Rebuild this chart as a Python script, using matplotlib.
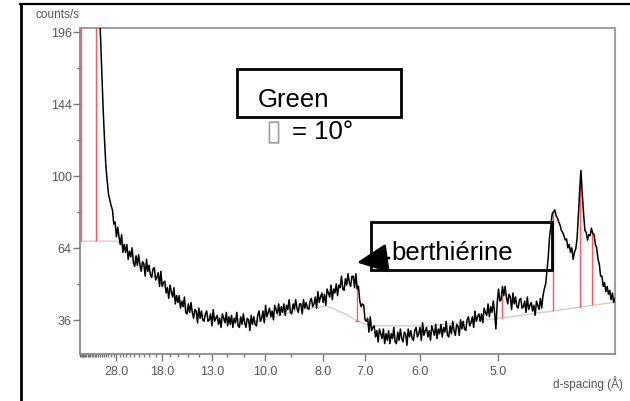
import numpy as np
import matplotlib
matplotlib.use("Agg")
import matplotlib.pyplot as plt
from matplotlib.lines import Line2D
from matplotlib.patches import Rectangle, FancyArrowPatch

# ---------------- data ----------------
WAVELENGTH = 1.5406                 # Cu K-alpha, Angstrom
scan_start, scan_step = 1.8, 0.05   # degrees 2-theta
counts = [
    950, 900, 850, 790, 730, 670, 610, 550, 490, 430, 380, 330, 290, 250,
    218, 188, 162, 138, 120, 105, 97, 90, 87, 84,
    82, 75, 76, 69, 73.5, 69, 65.5, 70, 62, 65.5,
    62, 65.5, 59, 62.5, 60, 64, 57.5, 56, 60.5, 56.5,
    61, 56.5, 54, 58, 57, 52, 59, 54, 56.5, 52.5,
    51.5, 55, 55.5, 50.5, 51.5, 53.5, 48, 54, 48, 49.5,
    50, 45.5, 47.5, 43.5, 48.5, 46, 44, 47.5, 41.5, 44.5,
    42, 44.5, 40, 42.5, 40.5, 44, 38.5, 38, 41.5, 38.5,
    42, 38.5, 36.5, 39.5, 39, 35, 40, 36.5, 39, 36,
    35.5, 38, 39, 35.5, 36, 38, 34, 39.5, 35.5, 36.5,
    37.5, 34.5, 36.5, 33.5, 38, 36.5, 35, 38.5, 34, 37,
    34.5, 37.5, 33.5, 36.5, 35, 38.5, 34, 33.5, 37, 34.5,
    38, 35, 33.5, 36.5, 36, 32.5, 37.5, 34.5, 37, 34.5,
    34, 37.5, 39, 35.5, 36.5, 39, 35, 41, 37, 38.5,
    40, 37, 39, 36, 41, 39.5, 38, 41.5, 37.5, 40.5,
    38.5, 41.5, 37.5, 41, 39.5, 43, 38.5, 38, 41.5, 39.5,
    43, 40, 38.5, 41.5, 41.5, 38, 43, 40, 42, 40,
    39.5, 42.5, 43.5, 40.5, 41.5, 44, 40, 46, 42, 44,
    45.5, 42, 45, 41, 47, 45.5, 44, 48.5, 43, 47,
    45.5, 49, 44.5, 48.5, 47.5, 52, 47, 46.5, 51, 48.5,
    53, 49.5, 48, 52, 52, 47.5, 53, 47, 48, 42.5,
    40.5, 41.5, 41, 36, 35.5, 36.5, 32, 37, 32.5, 33.5,
    34, 30.5, 32.5, 29, 33, 31.5, 30, 33, 28.5, 31.5,
    29.5, 32.5, 28.5, 31.5, 30, 33.5, 29, 28.5, 32, 29.5,
    33, 30, 29, 32, 31.5, 28, 33, 30.5, 32.5, 30,
    29.5, 32.5, 33.5, 30.5, 31.5, 33.5, 29.5, 35, 31, 32.5,
    33.5, 30.5, 32.5, 29.5, 34, 32.5, 31, 34.5, 30, 33,
    31.5, 34.5, 30.5, 33.5, 32, 35.5, 31, 30.5, 34, 31.5,
    35.5, 32.5, 31, 34.5, 34, 31, 36, 33, 35.5, 33,
    32.5, 36, 37, 34, 35, 37, 33.5, 39, 35.5, 37,
    38, 35.5, 38, 35, 40, 38.5, 37.5, 41.5, 37, 40.5,
    38.5, 42.5, 38.5, 33, 42, 47, 42.5, 43, 48, 44.5,
    48, 44, 41.5, 45, 44, 39.5, 45.5, 41.5, 44, 40.5,
    40, 43, 43.5, 40, 40.5, 42.5, 38.5, 44, 39.5, 41,
    42, 39, 41, 37.5, 42.5, 41, 39.5, 43.5, 40, 44.5,
    47, 49, 54, 60, 69, 74, 80, 81, 82, 79,
    78, 76, 74.5, 72, 71, 69.5, 67.5, 68, 64, 65.5,
    62, 64, 59, 62, 63.5, 68, 79, 92, 103, 90,
    80, 72, 71, 67.5, 70, 69.5, 73, 70.5, 70, 65.5,
    64, 59, 57, 52, 52, 48, 49.5, 46, 48, 45,
    46.5, 43, 45.5, 42, 43.5,
]
two_theta = scan_start + scan_step * np.arange(len(counts))

# fitted background (light grey)
bg_two_theta = [1.76, 3.18, 4.3, 5.0, 5.6, 6.35, 8.64, 10.17, 11.20, 11.89, 12.35, 12.84, 15.13, 17.89, 22.2]
bg_counts = [67, 67, 55, 47.5, 41.5, 37.5, 35.5, 39.5, 40.7, 38, 35.6, 34, 34, 36.6, 42.1]

# peak markers (red)
peak_two_theta = [1.78, 2.37, 12.35, 17.89, 19.84, 20.87, 21.32]
peak_top = [250, 250, 48.9, 44.7, 80.9, 102.7, 71.2]
peak_base = [67, 67, 35.6, 36.6, 39.1, 40.4, 41.1]

# axis ticks
y_major = [36, 64, 100, 144, 196]
y_minor = [49, 81, 121, 169]
d_major = [28.0, 18.0, 13.0, 10.0, 8.0, 7.0, 6.0, 5.0]
d_minor = [9, 11, 12] + list(range(14, 18)) + list(range(19, 28)) + list(range(29, 51))


def d_to_2theta(d):
    return np.degrees(2 * np.arcsin(WAVELENGTH / (2 * np.asarray(d, dtype=float))))


# ---------------- figure ----------------
W, H = 630, 402
fig = plt.figure(figsize=(W / 100, H / 100), dpi=100)
plt.rcParams['font.family'] = ['Liberation Sans', 'DejaVu Sans']


def fx(x):
    return x / W


def fy(y):
    return 1 - y / H


ax = fig.add_axes([fx(80), fy(355), (615 - 80) / W, (355 - 29) / H])
ax.set_yscale('function', functions=(lambda v: np.sqrt(np.maximum(v, 0)), np.square))
ax.set_xlim(1.76, 22.2)
ax.set_ylim(25.5, 199)

ax.plot(bg_two_theta, bg_counts, color='#cfcfcf', lw=1.0, zorder=1)
ax.vlines(peak_two_theta, peak_base, peak_top, color='#ff5a5a', lw=1.0, zorder=2.8)
ax.hlines([peak_base[2]], [peak_two_theta[2] - 0.07], [peak_two_theta[2] + 0.07],
          color='#ff5a5a', lw=1.0, zorder=2.8)
ax.plot(two_theta, counts, color='black', lw=1.1, zorder=3)

ax.set_yticks(y_major)
ax.set_yticklabels([str(v) for v in y_major])
ax.set_yticks(y_minor, minor=True)
ax.set_xticks(d_to_2theta(d_major))
ax.set_xticklabels([f"{d:.1f}" for d in d_major])
ax.set_xticks(d_to_2theta(d_minor), minor=True)

ax.tick_params(axis='both', which='major', labelsize=9, labelcolor='#555555',
               color='#777777', length=5, width=1)
ax.tick_params(axis='both', which='minor', color='#777777', length=2.5, width=1)
ax.tick_params(axis='y', which='major', pad=1)
ax.tick_params(axis='x', which='major', pad=3)

for side in ['left', 'bottom']:
    ax.spines[side].set_color('#808080')
    ax.spines[side].set_linewidth(1.2)
for side in ['top', 'right']:
    ax.spines[side].set_color('#a0a0a0')
    ax.spines[side].set_linewidth(1.5)

# outer frame (top and left)
fig.add_artist(Line2D([fx(20), fx(630)], [fy(5), fy(5)], color='black', lw=1.6))
fig.add_artist(Line2D([fx(21), fx(21)], [fy(5), fy(402)], color='black', lw=2.0))

fig.text(fx(35), fy(15), 'counts/s', fontsize=8.5, color='#555555', va='center', ha='left')
fig.text(fx(623), fy(384), 'd-spacing (Å)', fontsize=8.5, color='#555555', va='center', ha='right')

# "Green" box
fig.add_artist(Rectangle((fx(237), fy(118)), (401 - 237) / W, (118 - 70) / H,
                         transform=fig.transFigure, fill=False, edgecolor='black', lw=2.0))
fig.text(fx(258), fy(107), 'Green', fontsize=18.5, color='black', va='baseline', ha='left')
fig.text(fx(265), fy(140), '\u25af', fontsize=21, color='#9a9a9a', va='baseline', ha='left',
         family=['DejaVu Sans'])
fig.text(fx(292), fy(139), '= 10°', fontsize=18.5, color='black', va='baseline', ha='left')

# "berthiérine" box and arrow
fig.add_artist(Rectangle((fx(371), fy(271)), (552 - 371) / W, (271 - 223) / H,
                         transform=fig.transFigure, fill=False, edgecolor='black', lw=2.0))
fig.text(fx(391), fy(260), 'berthiérine', fontsize=18.5, color='black', va='baseline', ha='left')
arrow = FancyArrowPatch((fx(389), fy(259)), (fx(357), fy(263.5)), transform=fig.transFigure,
                        arrowstyle='-|>,head_length=19,head_width=9', color='black', lw=2.0,
                        mutation_scale=1, shrinkA=0, shrinkB=0)
fig.add_artist(arrow)

fig.savefig('out.png', dpi=100)
